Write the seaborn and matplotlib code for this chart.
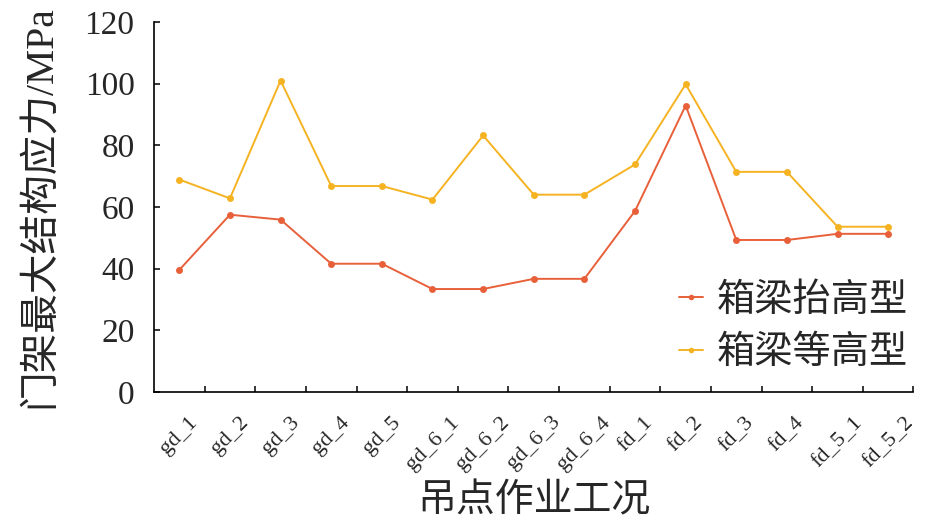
import matplotlib
matplotlib.use("Agg")
import matplotlib.pyplot as plt
from matplotlib.lines import Line2D
import seaborn as sns
import pandas as pd
import numpy as np

categories = ["gd_1", "gd_2", "gd_3", "gd_4", "gd_5", "gd_6_1", "gd_6_2", "gd_6_3",
              "gd_6_4", "fd_1", "fd_2", "fd_3", "fd_4", "fd_5_1", "fd_5_2"]
raised = [39.6, 57.5, 55.9, 41.6, 41.6, 33.4, 33.4, 36.7, 36.7, 58.7, 92.9, 49.3, 49.3, 51.3, 51.3]
equal = [68.9, 62.8, 101.0, 66.8, 66.8, 62.4, 83.2, 64.0, 64.0, 73.8, 99.8, 71.4, 71.4, 53.6, 53.6]
series_names = ["箱梁抬高型", "箱梁等高型"]
yticks = [0, 20, 40, 60, 80, 100, 120]

colors = ["#E8603A", "#F5B322"]

df = pd.DataFrame({
    "工况": categories * 2,
    "应力": raised + equal,
    "类型": [series_names[0]] * len(categories) + [series_names[1]] * len(categories),
})

sns.set_style("white")
plt.rcParams["font.family"] = ["Liberation Serif", "Noto Sans CJK SC"]
plt.rcParams["axes.unicode_minus"] = False

fig = plt.figure(figsize=(9.45, 5.23), dpi=100)
ax = fig.add_axes([154 / 945, 1 - 392 / 523, (913.5 - 154) / 945, 370 / 523])

sns.lineplot(data=df, x="工况", y="应力", hue="类型", palette=colors, sort=False,
             marker="o", markersize=5, markeredgewidth=0, linewidth=1.4,
             legend=False, ax=ax)

ax.set_xlim(-0.5, len(categories) - 0.5)
ax.set_ylim(0, 120)
ax.set_yticks(yticks)
ax.set_yticklabels([str(v) for v in yticks])
ax.set_xticks(range(len(categories)))
ax.set_xticklabels(categories, rotation=45, ha="center", va="top", fontsize=16)
ax.set_xticks(np.arange(0.5, len(categories), 1.0), minor=True)
ax.tick_params(axis="x", which="major", bottom=True, length=0, pad=15)
ax.tick_params(axis="x", which="minor", bottom=True, direction="in", length=4, width=1.1, color="black")
ax.tick_params(axis="y", left=True, direction="in", length=4, width=1.1, color="black", labelsize=24, pad=14)

for s in ["top", "right"]:
    ax.spines[s].set_visible(False)
for s in ["left", "bottom"]:
    ax.spines[s].set_color("black")
    ax.spines[s].set_linewidth(1.2)

ax.set_xlabel("吊点作业工况", fontsize=28, va="center")
ax.xaxis.set_label_coords(0.5, (392 - 502) / 370)
ax.set_ylabel("门架最大结构应力/MPa", fontsize=28.5, va="center")
ax.yaxis.set_label_coords((40 - 154) / 759.5, 0.5)

handles = [Line2D([0], [0], color=c, marker="o", markersize=4, markeredgewidth=0, linewidth=1.4)
           for c in colors]
fig.legend(handles, series_names, loc="upper left", bbox_to_anchor=(679 / 945, 1 - 283 / 523),
           frameon=False, fontsize=27.5, handlelength=0.62, handletextpad=0.38,
           labelspacing=0.45, borderpad=0, borderaxespad=0)

fig.savefig("out.png", dpi=100)
